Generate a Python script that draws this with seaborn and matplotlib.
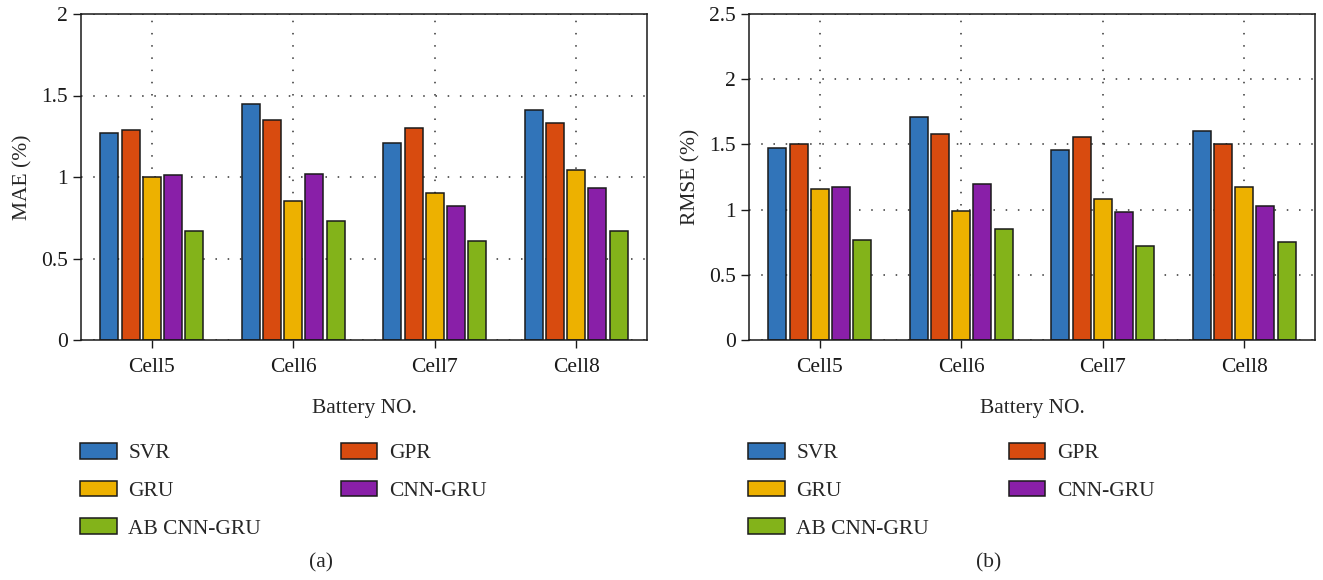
import matplotlib
matplotlib.use("Agg")
import matplotlib.pyplot as plt
from matplotlib.ticker import FuncFormatter
import pandas as pd
import seaborn as sns

cells = ["Cell5", "Cell6", "Cell7", "Cell8"]
models = ["SVR", "GPR", "GRU", "CNN-GRU", "AB CNN-GRU"]
colors = ["#3174b9", "#d84b0f", "#edb100", "#891fa8", "#83b31a"]

# values, one list per model (Cell5..Cell8)
mae_svr = [1.27, 1.45, 1.21, 1.41]
mae_gpr = [1.29, 1.35, 1.30, 1.33]
mae_gru = [1.00, 0.85, 0.90, 1.04]
mae_cnn_gru = [1.01, 1.02, 0.82, 0.93]
mae_ab_cnn_gru = [0.67, 0.73, 0.61, 0.67]

rmse_svr = [1.47, 1.71, 1.46, 1.60]
rmse_gpr = [1.50, 1.58, 1.56, 1.50]
rmse_gru = [1.16, 0.99, 1.08, 1.17]
rmse_cnn_gru = [1.17, 1.20, 0.98, 1.03]
rmse_ab_cnn_gru = [0.77, 0.85, 0.72, 0.75]


def to_frame(series):
    rows = []
    for model, vals in zip(models, series):
        for cell, v in zip(cells, vals):
            rows.append({"cell": cell, "model": model, "value": v})
    return pd.DataFrame(rows)


mae_df = to_frame([mae_svr, mae_gpr, mae_gru, mae_cnn_gru, mae_ab_cnn_gru])
rmse_df = to_frame([rmse_svr, rmse_gpr, rmse_gru, rmse_cnn_gru, rmse_ab_cnn_gru])

sns.set_style("white")
plt.rcParams["font.family"] = ["Liberation Serif", "DejaVu Serif"]

fig = plt.figure(figsize=(13.23, 5.8), dpi=100)
W, H = 1323, 580
FS = 15.5
panels = [
    (mae_df, "MAE (%)", 2.0, [0, 0.5, 1, 1.5, 2], 81, "(a)"),
    (rmse_df, "RMSE (%)", 2.5, [0, 0.5, 1, 1.5, 2, 2.5], 749, "(b)"),
]

for df, ylab, ymax, yticks, left, cap in panels:
    ax = fig.add_axes([left / W, (H - 340) / H, 566 / W, 326 / H])
    sns.barplot(data=df, x="cell", y="value", hue="model", hue_order=models,
                palette=colors, width=0.75, gap=0.15, edgecolor="#1a1a1a",
                linewidth=1.1, saturation=1, ax=ax)
    ax.set_xlim(-0.5, 3.5)
    ax.set_ylim(0, ymax)
    ax.set_yticks(yticks)
    ax.yaxis.set_major_formatter(FuncFormatter(lambda v, p: f"{v:g}"))
    ax.set_axisbelow(True)
    ax.grid(True, linestyle=(0, (1, 7)), color="#333333", linewidth=1.1)
    for s in ax.spines.values():
        s.set_visible(True)
        s.set_color("#1a1a1a")
        s.set_linewidth(1.1)
    ax.tick_params(direction="out", length=6, width=1, labelsize=FS, colors="#1a1a1a",
                   left=True, bottom=True)
    ax.tick_params(axis="x", pad=7)
    ax.set_xlabel("Battery NO.", fontsize=FS, labelpad=16)
    ax.set_ylabel(ylab, fontsize=FS, labelpad=6)

    handles, labels = ax.get_legend_handles_labels()
    order = [0, 2, 4, 1, 3]
    ax.legend([handles[i] for i in order], [labels[i] for i in order],
              loc="upper left", bbox_to_anchor=((left - 1) / W, (H - 443) / H),
              bbox_transform=fig.transFigure, ncol=2, frameon=False,
              fontsize=FS, handlelength=1.7, handleheight=0.75,
              handletextpad=0.55, columnspacing=3.7, labelspacing=0.8,
              borderaxespad=0, borderpad=0)
    fig.text((left + 240) / W, (H - 563) / H, cap, ha="center", va="center",
             fontsize=FS)

fig.savefig("out.png", dpi=100)
